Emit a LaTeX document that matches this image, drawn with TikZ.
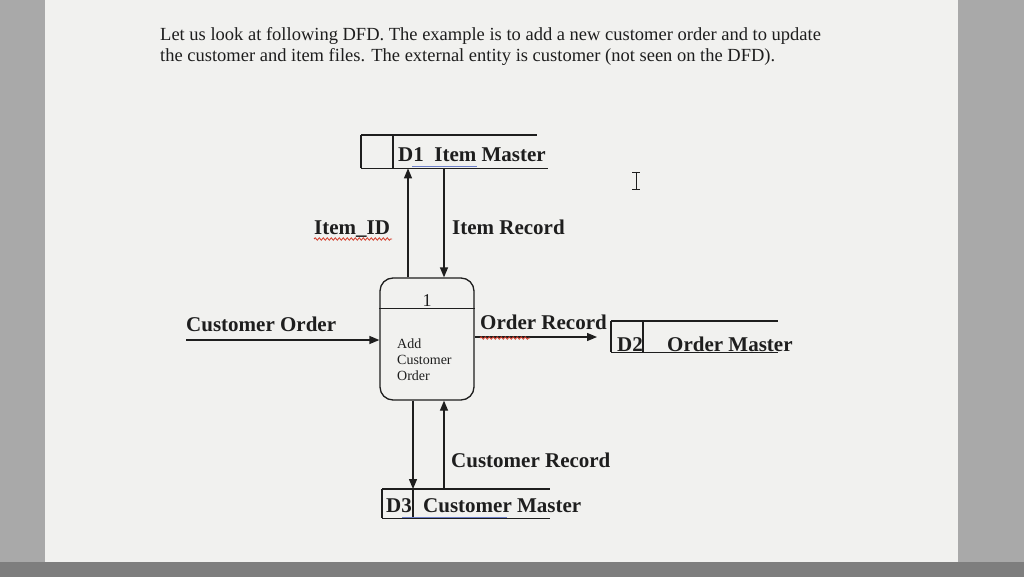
\documentclass[tikz,border=0pt]{standalone}
\usepackage{fontspec}
\setmainfont{Liberation Serif}
\usetikzlibrary{arrows.meta,decorations.pathmorphing}
\definecolor{ink}{HTML}{1E1E1E}
\definecolor{pagebg}{HTML}{F1F1EF}
\definecolor{sidebg}{HTML}{A9A9A9}
\definecolor{barbg}{HTML}{7E7E7E}
\definecolor{spellred}{HTML}{D23B2A}
\definecolor{grammarblue}{HTML}{6C7FC8}
\begin{document}
\begin{tikzpicture}[x=1pt,y=-1pt,
  line/.style={draw=ink,line width=1.3pt},
  flow/.style={line,-{Triangle[length=10pt,width=8pt]}},
  lbl/.style={font=\fontsize{21}{24}\selectfont\bfseries,text=ink,inner sep=0,anchor=base west},
  head/.style={font=\fontsize{18.5}{21}\selectfont,text=ink,inner sep=0,anchor=base west},
  small/.style={font=\fontsize{14}{16}\selectfont,text=ink,inner sep=0,anchor=base west},
  storebox/.style={inner sep=0,anchor=north west},
  spell/.style={draw=spellred,line width=0.8pt,decorate,decoration={snake,amplitude=1.2pt,segment length=4pt}},
  gram/.style={draw=grammarblue,line width=0.9pt}]
% background (screen photo)
\fill[sidebg] (0,0) rectangle (1024,577);
\fill[pagebg] (45,0) rectangle (958,562);
\fill[barbg] (0,562) rectangle (1024,577);
\useasboundingbox (0,0) rectangle (1024,577);
% heading
\node[head] (h1) at (160,41) {Let us look at following DFD. The example is to add a new customer order and to update};
\node[head] (h2) at (160,62) {the customer and item files. The external entity is customer (not seen on the DFD).};
% process
\node[draw=ink,line width=1.3pt,rounded corners=13pt,minimum width=94pt,minimum height=122pt,inner sep=0] (p) at (427,339) {};
\draw[line] ([yshift=-31pt]p.north west) -- ([yshift=-31pt]p.north east);
\node[font=\fontsize{18}{20}\selectfont,text=ink,inner sep=0,anchor=base] (pnum) at (427,306) {1};
\node[small] (pa) at (397,348) {Add};
\node[small] (pb) at (397,364) {Customer};
\node[small] (pc) at (397,380) {Order};
% D1
\node[storebox,minimum width=187pt,minimum height=33pt] (d1) at (361,135) {};
\draw[line] (d1.north west) -- ([xshift=-11pt]d1.north east);
\draw[line] (d1.south west) -- (d1.south east);
\draw[line] (d1.north west) -- (d1.south west);
\draw[line] ([xshift=32pt]d1.north west) -- ([xshift=32pt]d1.south west);
\node[lbl] (d1t) at (398,162) {D1\ \ Item Master};
% D2
\node[storebox,minimum width=167pt,minimum height=31pt] (d2) at (611,321) {};
\draw[line] (d2.north west) -- (d2.north east);
\draw[line] (d2.south west) -- (d2.south east);
\draw[line] (d2.north west) -- (d2.south west);
\draw[line] ([xshift=32pt]d2.north west) -- ([xshift=32pt]d2.south west);
\node[lbl] (d2a) at (617,351) {D2};
\node[lbl] (d2b) at (667,351) {Order Master};
% D3
\node[storebox,minimum width=168pt,minimum height=29pt] (d3) at (382,489) {};
\draw[line] (d3.north west) -- (d3.north east);
\draw[line] (d3.south west) -- (d3.south east);
\draw[line] (d3.north west) -- (d3.south west);
\node[lbl] (d3a) at (386,512) {D3};
\node[lbl] (d3b) at (423,512) {Customer Master};
% flows
\draw[flow] ([xshift=-19pt]p.north) -- ([xshift=-19pt]p.north |- d1.south);
\draw[flow] ([xshift=17pt]p.north |- d1.south) -- ([xshift=17pt]p.north);
\node[lbl] (l1) at (314,235) {Item\_ID};
\node[lbl] (l2) at (452,235) {Item Record};
\coordinate (co) at (186,340);
\draw[flow] (co) -- (co -| p.west);
\node[lbl] (l3) at (186,331) {Customer Order};
\coordinate (ore) at (597,337);
\draw[flow] (ore -| p.east) -- (ore);
\node[lbl] (l4) at (480,329) {Order Record};
\draw[flow] ([xshift=-14pt]p.south) -- ([xshift=-14pt]p.south |- d3.north);
\draw[line] ([xshift=-14pt]p.south |- d3.north) -- ([xshift=-14pt]p.south |- d3.south);
\draw[flow] ([xshift=17pt]p.south |- d3.north) -- ([xshift=17pt]p.south);
\node[lbl] (l5) at (451,467) {Customer Record};
% proofing marks
\draw[gram] (412,166) -- (477,166);
\draw[spell] (314,239) -- (392,239);
\draw[spell] (480,338) -- (530,338);
\draw[gram] (402,517) -- (507,517);
% text cursor
\draw[draw=ink,line width=0.9pt] (636,172) -- (636,189) (632,172) -- (640,172) (632,189) -- (640,189);
\end{tikzpicture}
\end{document}
